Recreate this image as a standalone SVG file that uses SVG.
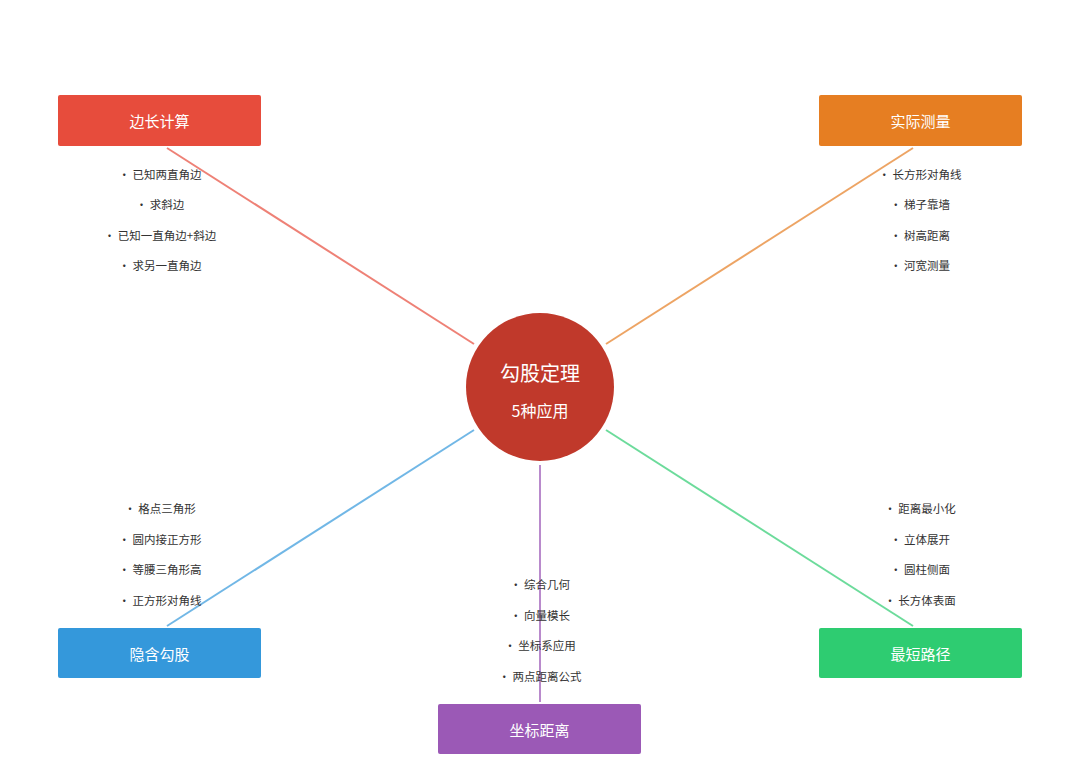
<svg xmlns="http://www.w3.org/2000/svg" width="1080" height="775" viewBox="0 0 1080 775">
<style>
.box{stroke:none}
.bt{font-family:"Noto Sans CJK SC","Noto Sans",sans-serif;font-size:15px;fill:#fff;text-anchor:middle;dominant-baseline:central}
.it{font-family:"Noto Sans CJK SC","Noto Sans",sans-serif;font-size:11.5px;fill:#333;text-anchor:middle;dominant-baseline:central}
.ln{stroke-width:2;opacity:0.7;fill:none}
</style>
<rect width="1080" height="775" fill="#fff"/>
<g id="connectors">
<line class="ln" x1="167" y1="148" x2="474" y2="344" stroke="#e74c3c"/>
<line class="ln" x1="913" y1="148" x2="606" y2="344" stroke="#e67e22"/>
<line class="ln" x1="167" y1="626" x2="474" y2="430" stroke="#3498db"/>
<line class="ln" x1="913" y1="626" x2="606" y2="430" stroke="#2ecc71"/>
<line class="ln" x1="540" y1="465" x2="540" y2="702" stroke="#9b59b6"/>
</g>
<g id="center">
<circle cx="540" cy="387" r="74" fill="#c0392b"/>
<text class="bt" x="540" y="372" style="font-size:20px">勾股定理</text>
<text class="bt" x="540" y="410" style="font-size:16px">5种应用</text>
</g>
<g id="n1">
<rect class="box" x="58" y="95" width="203" height="51" rx="2" fill="#e74c3c"/>
<text class="bt" x="159.5" y="120.5">边长计算</text>
<text class="it" x="160" y="174">•  已知两直角边</text>
<text class="it" x="160" y="204">•  求斜边</text>
<text class="it" x="160" y="235">•  已知一直角边+斜边</text>
<text class="it" x="160" y="265">•  求另一直角边</text>
</g>
<g id="n2">
<rect class="box" x="819" y="95" width="203" height="51" rx="2" fill="#e67e22"/>
<text class="bt" x="920.5" y="120.5">实际测量</text>
<text class="it" x="920" y="174">•  长方形对角线</text>
<text class="it" x="920" y="204">•  梯子靠墙</text>
<text class="it" x="920" y="235">•  树高距离</text>
<text class="it" x="920" y="265">•  河宽测量</text>
</g>
<g id="n3">
<rect class="box" x="58" y="628" width="203" height="50" rx="2" fill="#3498db"/>
<text class="bt" x="159.5" y="653">隐含勾股</text>
<text class="it" x="160" y="508">•  格点三角形</text>
<text class="it" x="160" y="539">•  圆内接正方形</text>
<text class="it" x="160" y="569">•  等腰三角形高</text>
<text class="it" x="160" y="600">•  正方形对角线</text>
</g>
<g id="n4">
<rect class="box" x="819" y="628" width="203" height="50" rx="2" fill="#2ecc71"/>
<text class="bt" x="920.5" y="653">最短路径</text>
<text class="it" x="920" y="508">•  距离最小化</text>
<text class="it" x="920" y="539">•  立体展开</text>
<text class="it" x="920" y="569">•  圆柱侧面</text>
<text class="it" x="920" y="600">•  长方体表面</text>
</g>
<g id="n5">
<rect class="box" x="438" y="704" width="203" height="50" rx="2" fill="#9b59b6"/>
<text class="bt" x="539.5" y="729">坐标距离</text>
<text class="it" x="540" y="584">•  综合几何</text>
<text class="it" x="540" y="615">•  向量模长</text>
<text class="it" x="540" y="645">•  坐标系应用</text>
<text class="it" x="540" y="676">•  两点距离公式</text>
</g>
</svg>
